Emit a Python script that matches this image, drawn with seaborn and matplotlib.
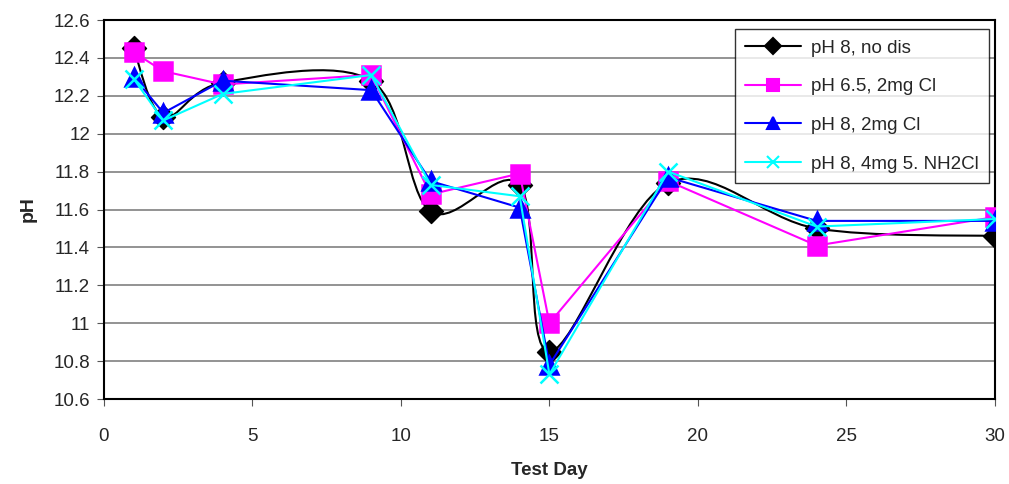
import numpy as np
import pandas as pd
import seaborn as sns
import matplotlib.pyplot as plt
from matplotlib.path import Path
from matplotlib.patches import PathPatch
from matplotlib.lines import Line2D

# Données
days = [1, 2, 4, 9, 11, 14, 15, 19, 24, 30]
ph8_no_dis = [12.45, 12.09, 12.27, 12.28, 11.59, 11.73, 10.85, 11.74, 11.50, 11.46]
ph65_2mg = [12.43, 12.33, 12.26, 12.31, 11.68, 11.79, 11.00, 11.75, 11.41, 11.56]
ph8_2mg = [12.30, 12.11, 12.28, 12.23, 11.75, 11.61, 10.78, 11.77, 11.54, 11.54]
ph8_4mg = [12.29, 12.07, 12.21, 12.31, 11.73, 11.67, 10.73, 11.80, 11.51, 11.55]

labels = ['pH 8, no dis', 'pH 6.5, 2mg Cl', 'pH 8, 2mg Cl', 'pH 8, 4mg 5. NH2Cl']
colors = ['black', '#FF00FF', '#0000FF', '#00FFFF']
markers = ['D', 's', '^', 'x']
sizes = [10, 13, 13, 13]

sns.set_style('white')
plt.rcParams['font.family'] = ['Liberation Sans', 'DejaVu Sans']

fig = plt.figure(figsize=(10.09, 4.84), dpi=100)
ax = fig.add_axes([0.103, 0.1756, 0.883, 0.783])

# Courbe lissée (style Excel) pour la série sans désinfectant
x = np.array(days, dtype=float)
y = np.array(ph8_no_dis)
px = np.concatenate([[x[0]], x, [x[-1]]])
py = np.concatenate([[y[0]], y, [y[-1]]])
verts = [(x[0], y[0])]
codes = [Path.MOVETO]
for i in range(1, len(px) - 2):
    c1 = (px[i] + (px[i + 1] - px[i - 1]) / 6, py[i] + (py[i + 1] - py[i - 1]) / 6)
    c2 = (px[i + 1] - (px[i + 2] - px[i]) / 6, py[i + 1] - (py[i + 2] - py[i]) / 6)
    verts += [c1, c2, (px[i + 1], py[i + 1])]
    codes += [Path.CURVE4] * 3
ax.add_patch(PathPatch(Path(verts, codes), facecolor='none', edgecolor='black', lw=1.5, zorder=2))
sns.scatterplot(x=days, y=ph8_no_dis, marker='D', color='black', s=sizes[0] ** 2 * 1.5,
                edgecolor='black', ax=ax, zorder=3)

series = [ph65_2mg, ph8_2mg, ph8_4mg]
for i, vals in enumerate(series, start=1):
    df = pd.DataFrame({'day': days, 'ph': vals})
    sns.lineplot(data=df, x='day', y='ph', color=colors[i], marker=markers[i],
                 markersize=sizes[i], markeredgecolor=colors[i], markeredgewidth=1.8,
                 lw=1.5, ax=ax, zorder=3 + i)

ax.set_xlim(0, 30)
ax.set_ylim(10.6, 12.6)
ax.set_xticks(range(0, 31, 5))
ax.set_yticks(np.round(np.arange(10.6, 12.61, 0.2), 1))
ax.set_yticklabels(['10.6', '10.8', '11', '11.2', '11.4', '11.6', '11.8', '12', '12.2', '12.4', '12.6'])
ax.yaxis.grid(True, color='#808080', lw=1.2)
ax.set_axisbelow(True)
for sp in ax.spines.values():
    sp.set_color('black')
    sp.set_linewidth(1.5)
ax.tick_params(axis='both', labelsize=13.5, length=5, direction='out', color='#555555',
               left=True, bottom=True)
ax.tick_params(axis='x', pad=16)
ax.tick_params(axis='y', pad=5)
ax.set_xlabel('Test Day', fontsize=13.5, fontweight='bold', labelpad=12)
ax.set_ylabel('pH', fontsize=14, fontweight='bold', labelpad=12)

handles = [Line2D([0], [0], color=c, marker=m, markersize=8, lw=1.5,
                  markeredgecolor=c, markeredgewidth=1.5)
           for c, m in zip(colors, markers)]
leg = ax.legend(handles, labels, loc='upper right', bbox_to_anchor=(0.993, 0.976),
                fontsize=13.5, frameon=True, fancybox=False, edgecolor='black',
                handlelength=3.0, handletextpad=0.5, labelspacing=1.15, borderpad=0.55,
                borderaxespad=0)
leg.get_frame().set_linewidth(1)

plt.savefig('out.png', dpi=100)
